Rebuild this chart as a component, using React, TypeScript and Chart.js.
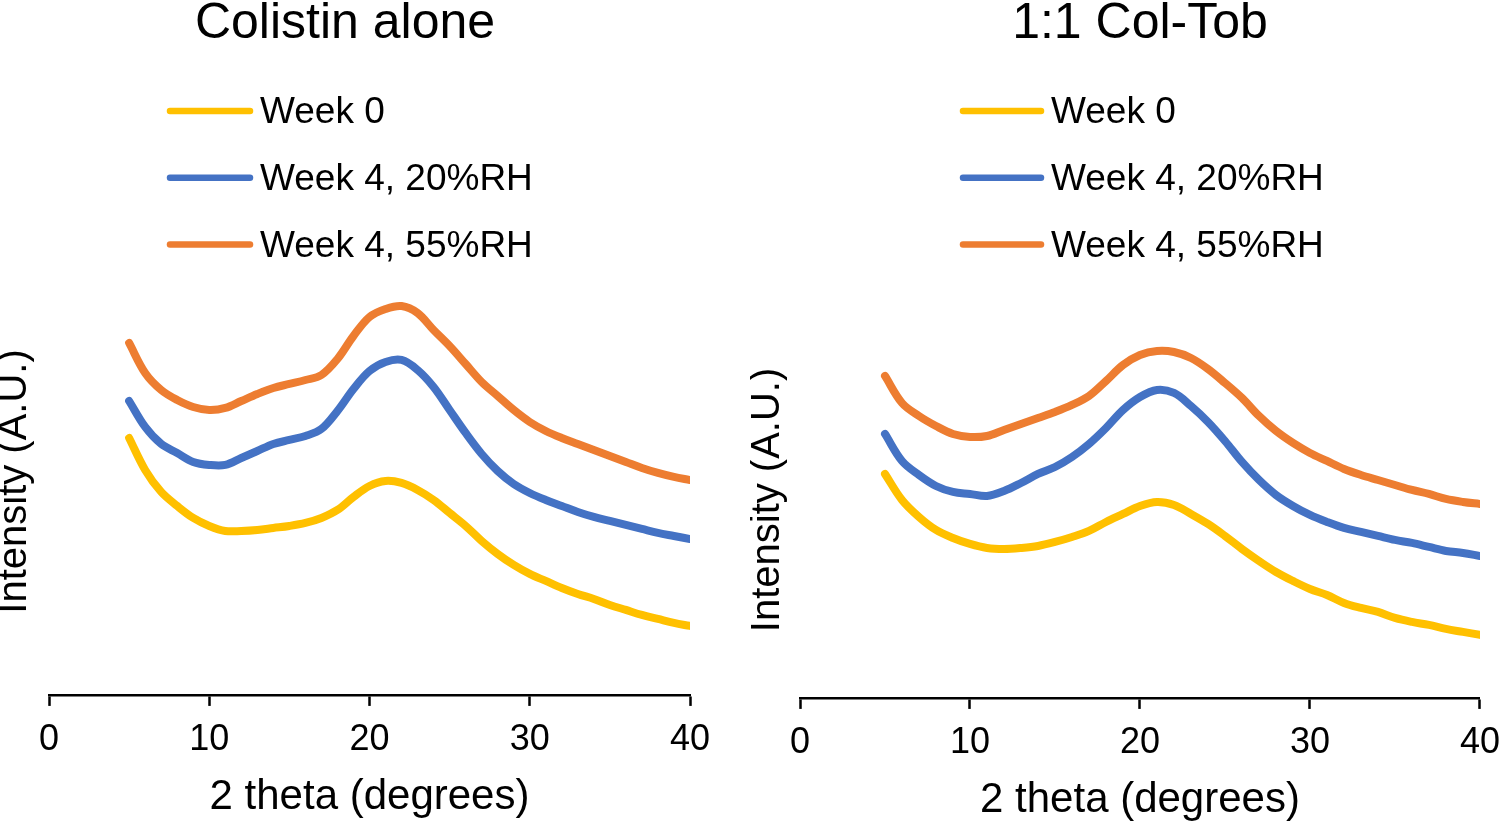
import React, { useEffect, useRef } from 'react';
import { Chart, registerables } from 'chart.js';

Chart.register(...registerables);

// ---- data ----
const twoTheta = [5, 6, 7, 8, 9, 10, 11, 12, 13, 14, 15, 16, 17, 18, 19, 20, 21, 22, 23, 24, 25, 26, 27, 28, 29, 30, 31, 32, 33, 34, 35, 36, 37, 38, 39, 40];
const seriesLabels = ['Week 0', 'Week 4, 20%RH', 'Week 4, 55%RH'];
const seriesColors = ['#FFC000', '#4472C4', '#ED7D31'];

// Colistin alone
const colWeek0 = [257, 225, 203, 189, 177, 169, 164, 164, 165, 167, 169, 172, 177, 185, 198, 209, 214, 212, 205, 195, 182, 169, 154, 141, 130, 121, 114, 107, 101, 96, 90, 85, 80, 76, 72, 69];
const colWeek4RH20 = [294, 268, 251, 242, 233, 230, 230, 237, 244, 251, 255, 259, 266, 284, 306, 324, 333, 335, 325, 308, 285, 262, 241, 224, 211, 202, 195, 189, 183, 178, 174, 170, 166, 162, 159, 156];
const colWeek4RH55 = [352, 322, 305, 295, 288, 285, 287, 294, 301, 307, 311, 315, 320, 336, 359, 378, 386, 389, 382, 365, 349, 331, 313, 299, 285, 273, 264, 257, 251, 245, 239, 233, 227, 222, 218, 215];

// 1:1 Col-Tob
const tobWeek0 = [224, 198, 181, 168, 160, 154, 150, 149, 150, 152, 156, 161, 167, 176, 184, 192, 196, 193, 184, 174, 162, 149, 137, 126, 117, 109, 103, 95, 90, 86, 80, 76, 73, 69, 66, 63];
const tobWeek4RH20 = [264, 237, 223, 212, 206, 204, 202, 207, 215, 224, 231, 241, 254, 270, 288, 301, 308, 305, 292, 276, 257, 236, 218, 203, 192, 183, 176, 170, 166, 162, 158, 155, 151, 147, 145, 142];
const tobWeek4RH55 = [322, 295, 282, 272, 264, 261, 262, 268, 274, 280, 286, 293, 302, 317, 333, 343, 347, 346, 340, 329, 315, 300, 282, 267, 255, 245, 237, 229, 223, 218, 213, 208, 204, 199, 196, 194];

const xAxisTitle = '2 theta (degrees)';
const yAxisTitle = 'Intensity (A.U.)';

const FONT = "'Liberation Sans', Arial, sans-serif";

const sideLegend = {
  id: 'sideLegend',
  afterDraw(chart: any, _args: any, opts: any) {
    const ctx = chart.ctx;
    chart.data.datasets.forEach((ds: any, i: number) => {
      const y = opts.y0 + i * opts.step;
      ctx.save();
      ctx.strokeStyle = ds.borderColor;
      ctx.lineWidth = opts.lineWidth;
      ctx.lineCap = 'round';
      ctx.beginPath();
      ctx.moveTo(opts.x0, y);
      ctx.lineTo(opts.x1, y);
      ctx.stroke();
      ctx.fillStyle = '#000';
      ctx.font = `${opts.fontSize}px ${FONT}`;
      ctx.textBaseline = 'middle';
      ctx.textAlign = 'left';
      ctx.fillText(ds.label, opts.textX, y + opts.textDy);
      ctx.restore();
    });
  },
};

function buildConfig(p: any, values: number[][]): any {
  return {
    type: 'line',
    data: {
      datasets: values.map((vals, i) => ({
        label: seriesLabels[i],
        data: twoTheta.map((x, j) => ({ x, y: vals[j] })),
        borderColor: seriesColors[i],
        backgroundColor: seriesColors[i],
        borderWidth: 8,
        pointRadius: 0,
        tension: 0.35,
        borderCapStyle: 'round',
        borderJoinStyle: 'round',
        fill: false,
      })),
    },
    options: {
      responsive: false,
      animation: false,
      devicePixelRatio: 1,
      layout: { padding: { left: p.padL, right: p.padR, top: 0, bottom: 0 } },
      plugins: {
        legend: { display: false },
        tooltip: { enabled: false },
        title: {
          display: true,
          text: p.title,
          fullSize: p.titleFull,
          color: '#000',
          font: { family: FONT, size: 50, lineHeight: 0.95, weight: 'normal' },
          padding: { top: 0, bottom: p.titleGap },
        },
        sideLegend: p.legend,
      },
      scales: {
        x: {
          type: 'linear',
          min: 0,
          max: 40,
          ticks: { stepSize: 10, color: '#000', padding: 2, font: { family: FONT, size: 36, lineHeight: 1.78 } },
          grid: { display: true, drawOnChartArea: false, drawTicks: true, tickLength: 11, tickWidth: 2.5, tickColor: '#000' },
          border: { display: true, color: '#000', width: 2.5 },
          title: {
            display: true,
            text: xAxisTitle,
            color: '#000',
            font: { family: FONT, size: 42, lineHeight: 1 },
            padding: { top: p.xTitleTop, bottom: p.xTitleBottom },
          },
        },
        y: {
          type: 'linear',
          min: 0,
          max: p.yMax,
          ticks: { display: false },
          grid: { display: false, drawTicks: false },
          border: { display: false },
          title: {
            display: true,
            text: yAxisTitle,
            color: '#000',
            font: { family: FONT, size: 40, lineHeight: 0.75 },
            padding: { top: 0, bottom: p.yTitleGap },
          },
        },
      },
    },
    plugins: [sideLegend],
  };
}

function ChartCanvas(props: { left: number; width: number; cfg: any }) {
  const ref = useRef<HTMLCanvasElement>(null);
  useEffect(() => {
    if (!ref.current) return;
    const chart = new Chart(ref.current, props.cfg);
    return () => chart.destroy();
  }, []);
  return (
    <canvas
      ref={ref}
      width={props.width}
      height={823}
      style={{ position: 'absolute', left: props.left, top: 0, width: props.width, height: 823 }}
    />
  );
}

export default function App() {
  const leftCfg = buildConfig(
    {
      title: 'Colistin alone',
      titleFull: true,
      titleGap: 220.5,
      padL: 0,
      padR: 60,
      yMax: 427,
      yTitleGap: 19,
      xTitleTop: 2,
      xTitleBottom: 5,
      legend: { x0: 170, x1: 250, textX: 260, y0: 111, step: 66.7, lineWidth: 6.5, fontSize: 37, textDy: 2 },
    },
    [colWeek0, colWeek4RH20, colWeek4RH55]
  );
  const rightCfg = buildConfig(
    {
      title: '1:1 Col-Tob',
      titleFull: false,
      titleGap: 254.5,
      padL: 3,
      padR: 21,
      yMax: 396,
      yTitleGap: 17,
      xTitleTop: 2,
      xTitleBottom: 2,
      legend: { x0: 213, x1: 291, textX: 301, y0: 111, step: 66.7, lineWidth: 6.5, fontSize: 37, textDy: 2 },
    },
    [tobWeek0, tobWeek4RH20, tobWeek4RH55]
  );
  return (
    <div style={{ position: 'absolute', left: 0, top: 0, width: 1502, height: 823, background: '#fff', overflow: 'hidden' }}>
      <ChartCanvas left={0} width={750} cfg={leftCfg} />
      <ChartCanvas left={750} width={752} cfg={rightCfg} />
    </div>
  );
}
